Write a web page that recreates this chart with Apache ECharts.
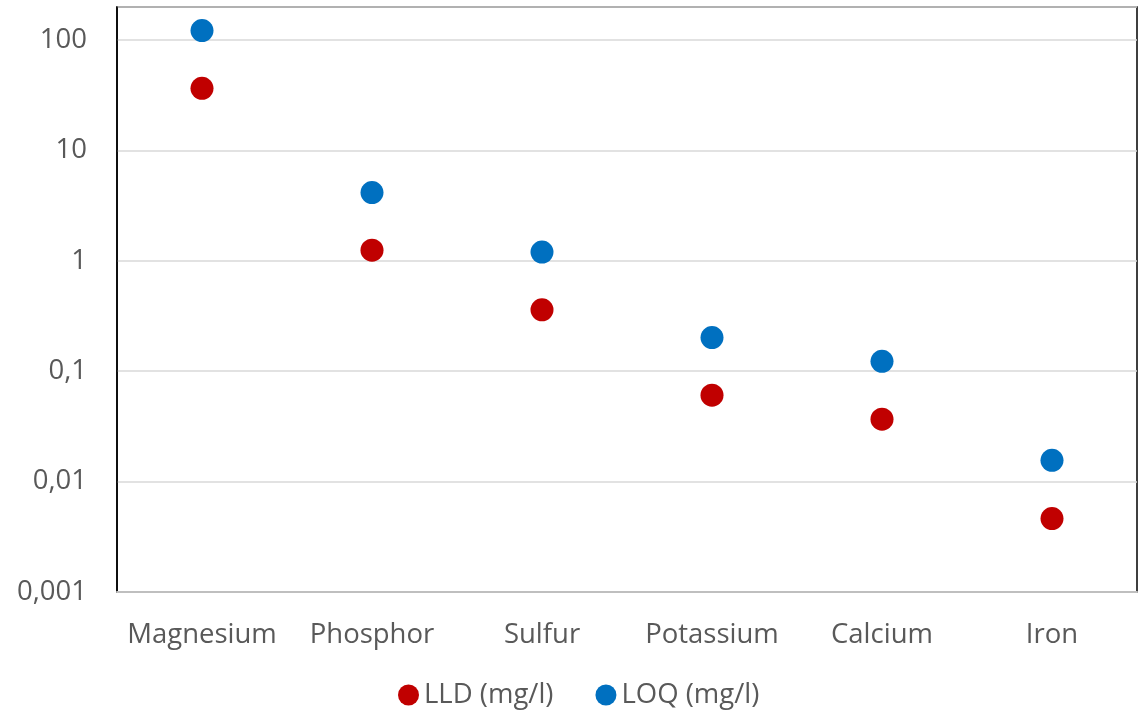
<!DOCTYPE html>
<html>
<head>
<meta charset="utf-8">
<script src="https://cdn.jsdelivr.net/npm/echarts@6/dist/echarts.min.js"></script>
<style>
html,body{margin:0;padding:0;background:#fff;}
#chart{width:1139px;height:713px;}
</style>
</head>
<body>
<div id="chart"></div>
<script>
var categories = ['Magnesium', 'Phosphor', 'Sulfur', 'Potassium', 'Calcium', 'Iron'];
var lldValues = [36.6, 1.25, 0.36, 0.0607, 0.0368, 0.00463];
var loqValues = [122, 4.16, 1.20, 0.202, 0.123, 0.0156];
var tickValues = [0.001, 0.01, 0.1, 1, 10, 100];
var tickLabels = ['0,001', '0,01', '0,1', '1', '10', '100'];

var textColor = '#595959';
var fontFamily = '"Open Sans", "Noto Sans", sans-serif';
var fs = 27.5;

var chart = echarts.init(document.getElementById('chart'));
chart.setOption({
  animation: false,
  backgroundColor: '#ffffff',
  textStyle: { fontFamily: fontFamily },
  grid: {
    left: 117, right: 2, top: 7, bottom: 121,
    show: true, borderColor: '#000000', borderWidth: 1.5,
    backgroundColor: 'transparent'
  },
  legend: {
    top: 676,
    left: 393,
    icon: 'circle',
    itemWidth: 21,
    itemHeight: 21,
    itemGap: 42,
    textStyle: { color: textColor, fontSize: fs, fontFamily: fontFamily },
    data: ['LLD (mg/l)', 'LOQ (mg/l)']
  },
  xAxis: {
    type: 'category',
    data: categories,
    z: 5,
    axisLine: { show: true, lineStyle: { color: '#BFBFBF', width: 2 } },
    axisTick: { show: false },
    splitLine: { show: false },
    axisLabel: { interval: 0, color: textColor, fontSize: fs, margin: 29, fontFamily: fontFamily }
  },
  yAxis: {
    type: 'log',
    logBase: 10,
    min: 0.001,
    max: 199.5,
    splitNumber: 5,
    axisLine: { show: true, lineStyle: { color: '#000000', width: 1.5 } },
    axisTick: { show: false },
    splitLine: { show: true, lineStyle: { color: '#D9D9D9', width: 1.5 } },
    axisLabel: {
      color: textColor, fontSize: fs, margin: 30, fontFamily: fontFamily,
      showMaxLabel: true, showMinLabel: true,
      formatter: function (v) {
        for (var i = 0; i < tickValues.length; i++) {
          if (Math.abs(Math.log10(v) - Math.log10(tickValues[i])) < 1e-6) return tickLabels[i];
        }
        return '';
      }
    }
  },
  series: [
    {
      name: 'LLD (mg/l)',
      type: 'scatter',
      data: lldValues,
      symbol: 'circle',
      symbolSize: 23,
      clip: false,
      itemStyle: { color: '#C00000', opacity: 1 }
    },
    {
      name: 'LOQ (mg/l)',
      type: 'scatter',
      data: loqValues,
      symbol: 'circle',
      symbolSize: 23,
      clip: false,
      itemStyle: { color: '#0070C0', opacity: 1 }
    }
  ]
});
</script>
</body>
</html>
